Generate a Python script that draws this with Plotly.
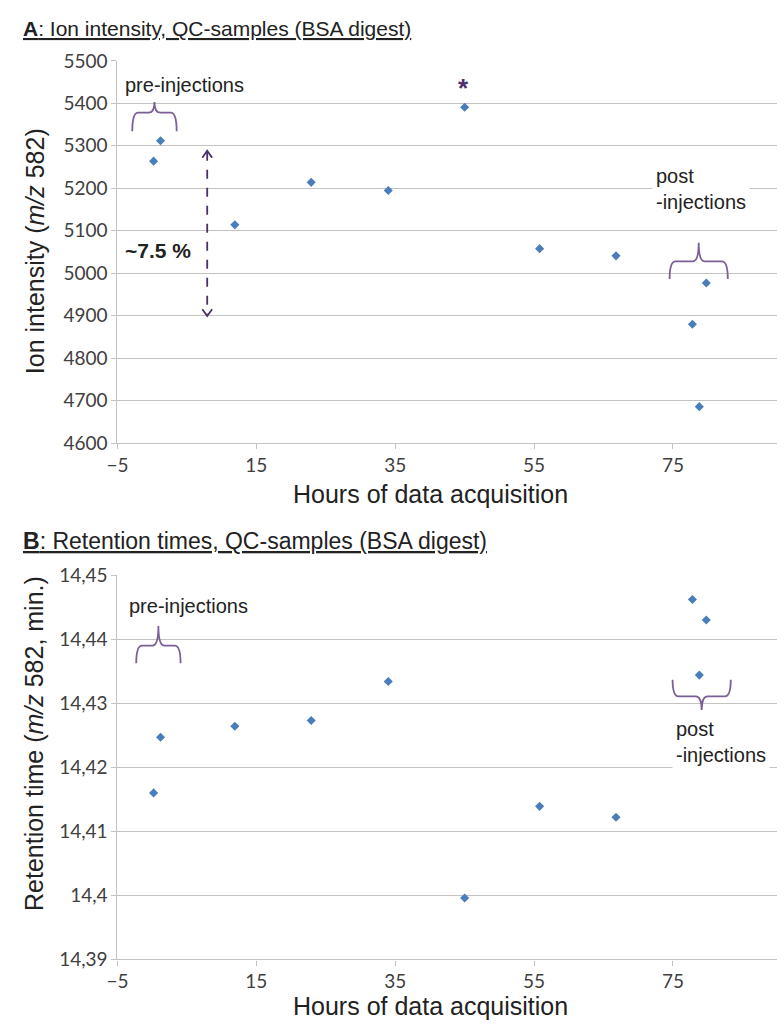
import plotly.graph_objects as go

# ---------------- data ----------------
hours = [0.2, 1.2, 11.9, 22.9, 34.0, 45.0, 55.8, 66.8, 77.8, 78.8, 79.8]
ion_intensity = [5264, 5312, 5114, 5214, 5195, 5391, 5058, 5041, 4880, 4686, 4977]
retention_time = [14.4160, 14.4247, 14.4264, 14.4273, 14.4334, 14.3996,
                  14.4139, 14.4122, 14.4462, 14.4344, 14.4430]

x_ticks = [-5, 15, 35, 55, 75]
a_ticks = [4600, 4700, 4800, 4900, 5000, 5100, 5200, 5300, 5400, 5500]
b_ticks = [14.39, 14.40, 14.41, 14.42, 14.43, 14.44, 14.45]
b_ticklabels = ["14,39", "14,4", "14,41", "14,42", "14,43", "14,44", "14,45"]

# ---------------- layout helpers ----------------
W, H = 784, 1033
def px(x):
    return x / W
def py(y):
    return 1 - y / H

BLUE = "#4A7EBB"
GRID = "#c3c3c3"
TICKFONT = dict(family="Lato, Carlito, Arial", size=19, color="#404040")
TXT = "Liberation Sans, Arial, sans-serif"
BRACE = "#7a5f98"
DARKP = "#4b2f6b"

fig = go.Figure()
fig.add_trace(go.Scatter(x=hours, y=ion_intensity, mode="markers",
                         marker=dict(symbol="diamond", size=7, color=BLUE),
                         xaxis="x", yaxis="y", showlegend=False))
fig.add_trace(go.Scatter(x=hours, y=retention_time, mode="markers",
                         marker=dict(symbol="diamond", size=7, color=BLUE),
                         xaxis="x2", yaxis="y2", showlegend=False))

common_x = dict(range=[-5, 90], tickvals=x_ticks, showgrid=False, zeroline=False,
                showline=True, linecolor=GRID, linewidth=1.3,
                ticks="outside", ticklen=5, tickcolor=GRID, tickfont=TICKFONT,
                domain=[px(108), px(777)])
common_y = dict(showgrid=True, gridcolor=GRID, gridwidth=1.3, zeroline=False,
                showline=True, linecolor=GRID, linewidth=1.3,
                ticks="outside", ticklen=5, tickcolor=GRID, tickfont=TICKFONT)

fig.update_layout(
    width=W, height=H, margin=dict(l=0, r=0, t=0, b=0),
    paper_bgcolor="white", plot_bgcolor="white", showlegend=False,
    xaxis=dict(anchor="y", **common_x),
    yaxis=dict(anchor="x", range=[4600, 5500], tickvals=a_ticks,
               domain=[py(441), py(50)], **common_y),
    xaxis2=dict(anchor="y2", **common_x),
    yaxis2=dict(anchor="x2", range=[14.39, 14.45], tickvals=b_ticks,
                ticktext=b_ticklabels, domain=[py(969), py(576)], **common_y),
)

ann = []
def text(x, y, s, size=20, xanchor="left", yanchor="middle", color="#222222",
         angle=0, family=TXT, bg=None, align="left"):
    d = dict(x=px(x), y=py(y), xref="paper", yref="paper", text=s, showarrow=False,
             xanchor=xanchor, yanchor=yanchor, textangle=angle, align=align,
             font=dict(family=family, size=size, color=color))
    if bg:
        d["bgcolor"] = bg
        d["borderpad"] = 3
    ann.append(d)

# titles
text(10, 17, "<u><b>A</b>: Ion intensity, QC-samples (BSA digest)</u>", size=21)
text(10, 541, "<u><b>B</b>: Retention times, QC-samples (BSA digest)</u>", size=23)
# axis titles
text(425, 493, "Hours of data acquisition", size=25, xanchor="center")
text(425, 1017, "Hours of data acquisition", size=25, xanchor="center")
text(24, 245, "Ion intensity (<i>m/z</i> 582)", size=25, xanchor="center", angle=-90)
text(24, 748, "Retention time (<i>m/z</i> 582, min.)", size=25, xanchor="center", angle=-90)

# panel A annotations
text(114, 75, "pre-injections", size=20)
text(459, 78, "<b>*</b>", size=26, xanchor="center", color=DARKP)
text(114, 244, "<b>~7.5 %</b>", size=21)
text(650, 152, "post<br>-injections", size=20, yanchor="top", bg="white")
# panel B annotations
text(118, 608, "pre-injections", size=20)
text(670, 718, "post<br>-injections", size=20, yanchor="top", bg="white")
fig.update_layout(annotations=ann)

shapes = []
def brace(x0, x1, yend, yflat, ypeak, r=6):
    xc = (x0 + x1) / 2
    pts = lambda x, y: f"{px(x)},{py(y)}"
    d = (f"M {pts(x0, yend)} Q {pts(x0, yflat)} {pts(x0 + r, yflat)} "
         f"L {pts(xc - r, yflat)} Q {pts(xc, yflat)} {pts(xc, ypeak)} "
         f"Q {pts(xc, yflat)} {pts(xc + r, yflat)} "
         f"L {pts(x1 - r, yflat)} Q {pts(x1, yflat)} {pts(x1, yend)}")
    shapes.append(dict(type="path", path=d, xref="paper", yref="paper",
                       line=dict(color=BRACE, width=1.8)))

brace(123, 168, 122, 103, 92)
brace(668, 727, 273, 255, 236)
brace(127, 172, 666, 648, 628)
brace(671, 730, 683, 700, 714)

# dashed double arrow (panel A)
ax = 199
shapes.append(dict(type="line", xref="paper", yref="paper",
                   x0=px(ax), x1=px(ax), y0=py(143), y1=py(310),
                   line=dict(color=DARKP, width=1.8, dash="dash")))
for tip, sgn in ((142, 1), (311, -1)):
    d = (f"M {px(ax - 5)},{py(tip + sgn * 7)} L {px(ax)},{py(tip)} "
         f"L {px(ax + 5)},{py(tip + sgn * 7)}")
    shapes.append(dict(type="path", path=d, xref="paper", yref="paper",
                       line=dict(color=DARKP, width=1.8)))
fig.update_layout(shapes=shapes)

fig.write_html("out.html")
